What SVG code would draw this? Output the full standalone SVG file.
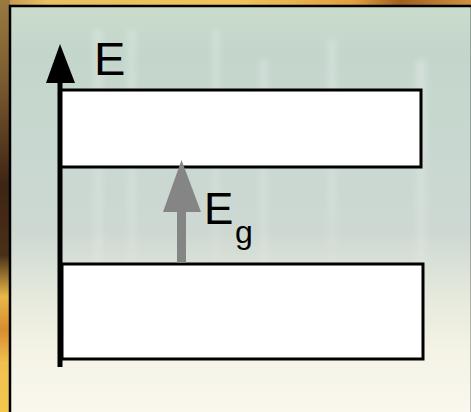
<svg xmlns="http://www.w3.org/2000/svg" width="471" height="412" viewBox="0 0 471 412">
  <defs>
    <linearGradient id="leftBorder" x1="0" y1="0" x2="0" y2="1">
      <stop offset="0" stop-color="#9a7a40"/>
      <stop offset="0.2" stop-color="#7a5a30"/>
      <stop offset="0.45" stop-color="#3e2414"/>
      <stop offset="0.62" stop-color="#4a3018"/>
      <stop offset="0.72" stop-color="#e8b848"/>
      <stop offset="0.8" stop-color="#d88c30"/>
      <stop offset="0.88" stop-color="#f0c050"/>
      <stop offset="1" stop-color="#f4c84c"/>
    </linearGradient>
    <linearGradient id="topBorder" x1="0" y1="0" x2="1" y2="0">
      <stop offset="0" stop-color="#c09050"/>
      <stop offset="0.1" stop-color="#e8c060"/>
      <stop offset="0.5" stop-color="#f0c45a"/>
      <stop offset="0.75" stop-color="#e0a040"/>
      <stop offset="0.85" stop-color="#a06020"/>
      <stop offset="1" stop-color="#d09040"/>
    </linearGradient>
    <linearGradient id="panel" x1="0" y1="0" x2="0" y2="1">
      <stop offset="0" stop-color="#cadccb"/>
      <stop offset="0.12" stop-color="#c4d6cc"/>
      <stop offset="0.35" stop-color="#c8d8d0"/>
      <stop offset="0.55" stop-color="#cdd8d2"/>
      <stop offset="0.72" stop-color="#e6eadc"/>
      <stop offset="0.85" stop-color="#f4f3e6"/>
      <stop offset="1" stop-color="#faf8ee"/>
    </linearGradient>
    <linearGradient id="stripeFade" x1="0" y1="0" x2="0" y2="1">
      <stop offset="0" stop-color="#ffffff" stop-opacity="0.25"/>
      <stop offset="0.7" stop-color="#ffffff" stop-opacity="0.15"/>
      <stop offset="1" stop-color="#ffffff" stop-opacity="0"/>
    </linearGradient>
    <filter id="soft" x="-50%" y="-10%" width="200%" height="120%">
      <feGaussianBlur stdDeviation="3"/>
    </filter>
    <style>
      .band { fill: #ffffff; stroke: #000000; stroke-width: 3; }
      .lbl { font-family: "Liberation Sans", Arial, sans-serif; fill: #000000; }
    </style>
  </defs>

  <!-- outer textured border -->
  <rect x="0" y="0" width="471" height="412" fill="url(#topBorder)"/>
  <rect x="0" y="0" width="10" height="412" fill="url(#leftBorder)"/>

  <!-- inner panel -->
  <rect x="10" y="6" width="462" height="408" fill="url(#panel)" stroke="#000000" stroke-width="2.5"/>
  <g fill="url(#stripeFade)" filter="url(#soft)">
    <rect x="94" y="30" width="8" height="300"/>
    <rect x="128" y="30" width="7" height="280"/>
    <rect x="213" y="30" width="6" height="260"/>
    <rect x="260" y="60" width="7" height="250"/>
    <rect x="328" y="40" width="8" height="240"/>
    <rect x="416" y="60" width="10" height="260"/>
  </g>

  <!-- energy axis -->
  <g id="axis">
    <line x1="60" y1="367" x2="60" y2="80" stroke="#000000" stroke-width="5"/>
    <polygon points="60,44 46,83 75,83" fill="#000000"/>
  </g>
  <g id="label-E">
    <text class="lbl" x="94" y="75" font-size="47">E</text>
  </g>

  <!-- conduction band -->
  <g id="band-top">
    <rect class="band" x="61" y="90" width="360" height="77"/>
  </g>
  <!-- valence band -->
  <g id="band-bottom">
    <rect class="band" x="62" y="264" width="361" height="95"/>
  </g>

  <!-- gap arrow -->
  <g id="connectors">
    <line x1="181.5" y1="263" x2="181.5" y2="205" stroke="#858585" stroke-width="9"/>
    <polygon points="181.5,160 163,212 201,212" fill="#858585"/>
  </g>
  <g id="label-Eg">
    <text class="lbl" x="204" y="224" font-size="44">E</text>
    <text class="lbl" x="235" y="243" font-size="32">g</text>
  </g>
</svg>
